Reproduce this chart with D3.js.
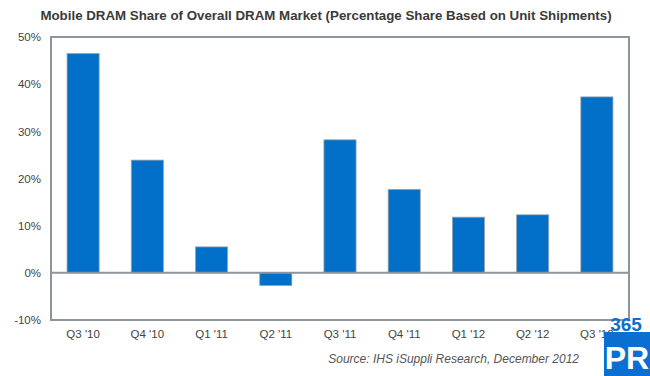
<!DOCTYPE html>
<html>
<head>
<meta charset="utf-8">
<script src="https://cdn.jsdelivr.net/npm/d3@7"></script>
<style>
  body { margin: 0; background: #fff; }
  svg { display: block; font-family: Arial, "Liberation Sans", sans-serif; }
</style>
</head>
<body>
<svg id="chart" width="650" height="376"></svg>
<script>
const quarters = ["Q3 '10", "Q4 '10", "Q1 '11", "Q2 '11", "Q3 '11", "Q4 '11", "Q1 '12", "Q2 '12", "Q3 '12"];
const shares = [46.5, 23.9, 5.5, -2.7, 28.2, 17.7, 11.8, 12.3, 37.3];
const yTicks = [-10, 0, 10, 20, 30, 40, 50];

const svg = d3.select('#chart');
const margin = { top: 37, right: 21, bottom: 56, left: 51 };
const width = 650 - margin.left - margin.right;
const height = 376 - margin.top - margin.bottom;

const frameColor = '#8c959b';

const x = d3.scaleBand()
  .domain(quarters)
  .range([0, width])
  .paddingInner(0.5)
  .paddingOuter(0.25);

const y = d3.scaleLinear()
  .domain([-10, 50])
  .range([height, 0]);

svg.append('text')
  .attr('x', 326)
  .attr('y', 20)
  .attr('text-anchor', 'middle')
  .attr('font-size', 13.3)
  .attr('font-weight', 'bold')
  .attr('fill', '#3a3a3a')
  .text('Mobile DRAM Share of Overall DRAM Market (Percentage Share Based on Unit Shipments)');

const g = svg.append('g')
  .attr('transform', `translate(${margin.left},${margin.top})`);

// bars
g.selectAll('.bar')
  .data(shares)
  .enter()
  .append('rect')
  .attr('class', 'bar')
  .attr('x', (d, i) => x(quarters[i]))
  .attr('y', d => (d < 0 ? y(0) : y(d)))
  .attr('width', x.bandwidth())
  .attr('height', d => Math.abs(y(d) - y(0)))
  .attr('fill', '#0270c9')
  .attr('stroke', '#9aa3aa')
  .attr('stroke-width', 0.8);

// zero line
g.append('line')
  .attr('x1', 0)
  .attr('x2', width)
  .attr('y1', y(0))
  .attr('y2', y(0))
  .attr('stroke', frameColor)
  .attr('stroke-width', 2);

// frame
g.append('rect')
  .attr('x', 0)
  .attr('y', 0)
  .attr('width', width)
  .attr('height', height)
  .attr('fill', 'none')
  .attr('stroke', frameColor)
  .attr('stroke-width', 2);

// y axis labels
const yAxis = d3.axisLeft(y)
  .tickValues(yTicks)
  .tickFormat(d => d + '%')
  .tickSize(0)
  .tickPadding(10);

g.append('g')
  .call(yAxis)
  .call(s => s.select('.domain').remove())
  .selectAll('text')
  .attr('font-size', 11.5)
  .attr('fill', '#444');

// x axis labels
const xAxis = d3.axisBottom(x).tickSize(0).tickPadding(10);

g.append('g')
  .attr('transform', `translate(0,${height})`)
  .call(xAxis)
  .call(s => s.select('.domain').remove())
  .selectAll('text')
  .attr('font-size', 11.5)
  .attr('fill', '#444');

// source note
svg.append('text')
  .attr('x', 579)
  .attr('y', 363)
  .attr('text-anchor', 'end')
  .attr('font-size', 12)
  .attr('font-style', 'italic')
  .attr('fill', '#555')
  .text('Source: IHS iSuppli Research, December 2012');

// watermark logo
const logo = svg.append('g');
logo.append('rect')
  .attr('x', 604)
  .attr('y', 332)
  .attr('width', 46)
  .attr('height', 44)
  .attr('fill', '#0a6fd0');
logo.append('text')
  .attr('x', 626)
  .attr('y', 331)
  .attr('text-anchor', 'middle')
  .attr('font-size', 19)
  .attr('font-weight', 'bold')
  .attr('fill', '#0a6fd0')
  .text('365');
logo.append('text')
  .attr('x', 627)
  .attr('y', 369)
  .attr('text-anchor', 'middle')
  .attr('font-size', 32)
  .attr('font-weight', 'bold')
  .attr('fill', '#fff')
  .text('PR');
</script>
</body>
</html>
